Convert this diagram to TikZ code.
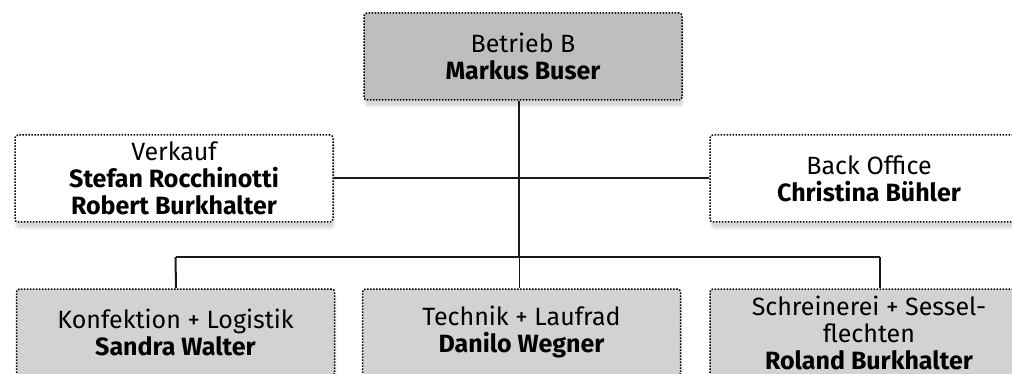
\documentclass[tikz,border=0pt]{standalone}
\usepackage{fontspec}
\setmainfont{Fira Sans}
\usetikzlibrary{shadows.blur}

\definecolor{headgray}{HTML}{BDBEC0}
\definecolor{unitgray}{HTML}{D1D2D4}

\begin{document}
\begin{tikzpicture}[x=1pt, y=-1pt]
  \tikzstyle{unit}=[rectangle, rounded corners = 3pt, minimum width = 318pt, minimum height = 87pt,
    align = center, inner sep = 0pt, draw = black, line width = 1.5pt,
    dash pattern = on 1.5pt off 1.5pt, font = \fontsize{25}{27}\selectfont,
    blur shadow = {shadow xshift = 1pt, shadow yshift = -6pt, shadow opacity = 15, shadow blur steps = 6}]
  \tikzstyle{head}=[unit, fill = headgray]
  \tikzstyle{staff}=[unit, fill = white]
  \tikzstyle{dept}=[unit, fill = unitgray]
  \tikzstyle{connect}=[line width = 2pt, black!90]
  \tikzstyle{drop}=[line width = 1pt, black!90]

  \useasboundingbox (0,0) rectangle (1012,374);

  \node[head] (top) at (523,56.5) {Betrieb B\\\textbf{Markus Buser}};
  \node[staff] (sales) at (174,178.5) {Verkauf\\\textbf{Stefan Rocchinotti}\\\textbf{Robert Burkhalter}};
  \node[staff] (office) at (869,178.5) {Back Office\\\textbf{Christina Bühler}};
  \node[dept] (conf) at (175.5,332.5) {Konfektion + Logistik\\\textbf{Sandra Walter}};
  \node[dept] (tech) at (521.5,332.5) {Technik + Laufrad\\\textbf{Danilo Wegner}};
  \node[dept] (wood) at (869,332.5) {Schreinerei + Sessel-\\flechten\\\textbf{Roland Burkhalter}};

  \coordinate (bus) at (519,257);

  \draw[connect] ([xshift=-4pt]top.south) -- ([xshift=-4pt]top.south |- bus);
  \draw[connect] (sales.east) -- (office.west);
  \draw[connect] (conf.north |- bus) -- ([xshift=11pt]wood.north |- bus);
  \draw[connect] (conf.north |- bus) -- ([xshift=0.5pt]conf.north);
  \draw[connect] ([xshift=11pt]wood.north |- bus) -- ([xshift=11pt]wood.north);
  \draw[drop] (bus) -- (bus |- tech.north);

\end{tikzpicture}
\end{document}
